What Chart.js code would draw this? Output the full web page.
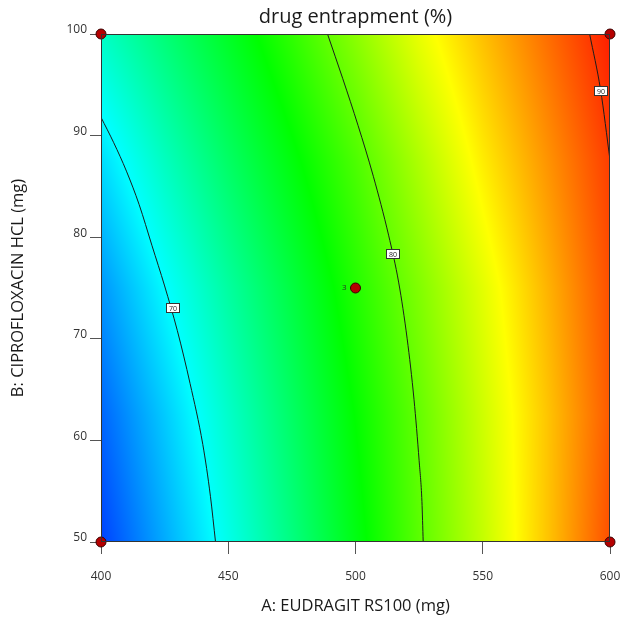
<!DOCTYPE html>
<html>
<head>
<meta charset="utf-8">
<script src="https://cdn.jsdelivr.net/npm/chart.js@4.4.1/dist/chart.umd.min.js"></script>
<style>
  html, body { margin: 0; padding: 0; background: #fff; }
  #myChart { display: block; }
</style>
</head>
<body>
<canvas id="myChart" width="622" height="621"></canvas>
<script>
// factor levels of the response surface grid
const xGrid = [400, 425, 450, 475, 500, 525, 550, 575, 600];
const yGrid = [50, 62.5, 75, 87.5, 100];
// predicted drug entrapment (%), one row per B level
const entrapment = [
  [64.6, 67.6, 70.6, 73.6, 76.7, 79.8, 82.8, 86.1, 89.5],
  [65.6, 68.5, 71.5, 74.4, 77.3, 80.1, 83.1, 86.1, 89.2],
  [67.0, 69.9, 72.7, 75.4, 78.2, 80.9, 83.7, 86.6, 89.5],
  [69.0, 71.8, 74.4, 76.9, 79.4, 82.2, 85.0, 87.5, 90.0],
  [71.6, 73.9, 76.2, 78.6, 81.2, 83.9, 86.3, 88.6, 90.9]
];

// contour lines
const contour70 = [[400, 91.8], [405, 89.3], [410, 86.5], [415, 83.2], [420, 79.2], [425, 75.2], [430, 70.8], [435, 65.6], [440, 59.6], [443, 54.5], [445, 50]];
const contour80 = [[489, 100], [495, 95.6], [501, 91], [507, 86], [513, 80.2], [517, 75.5], [520.3, 70], [523, 64], [525, 58], [526.1, 54], [526.6, 50]];
const contour90 = [[592, 100], [596.3, 94.5], [600, 87.6]];
const contourLabels = [
  { text: '70', x: 428.3, y: 73.0 },
  { text: '80', x: 514.9, y: 78.3 },
  { text: '90', x: 596.3, y: 94.4 }
];

// design points
const designX = [400, 400, 600, 600, 500];
const designY = [50, 100, 50, 100, 75];
const designRuns = [null, null, null, null, '3'];

const FONT = "'Open Sans', 'Noto Sans', sans-serif";

// colour ramp blue -> cyan -> green -> yellow -> red
const rampValues = [62.75, 70, 77.25, 84.5, 91.75];
const rampColors = [[0, 0, 255], [0, 255, 255], [0, 255, 0], [255, 255, 0], [255, 0, 0]];

function rampColor(v) {
  if (v <= rampValues[0]) return rampColors[0];
  for (let i = 1; i < rampValues.length; i++) {
    if (v <= rampValues[i]) {
      const t = (v - rampValues[i - 1]) / (rampValues[i] - rampValues[i - 1]);
      const a = rampColors[i - 1], b = rampColors[i];
      return [a[0] + (b[0] - a[0]) * t, a[1] + (b[1] - a[1]) * t, a[2] + (b[2] - a[2]) * t];
    }
  }
  return rampColors[rampColors.length - 1];
}

function findCell(grid, v) {
  let i = 0;
  while (i < grid.length - 2 && v > grid[i + 1]) i++;
  let t = (v - grid[i]) / (grid[i + 1] - grid[i]);
  return [i, Math.max(0, Math.min(1, t))];
}

function surfaceAt(xv, yv) {
  const [i, tx] = findCell(xGrid, xv);
  const [j, ty] = findCell(yGrid, yv);
  const a = entrapment[j][i], b = entrapment[j][i + 1];
  const c = entrapment[j + 1][i], d = entrapment[j + 1][i + 1];
  return (a * (1 - tx) + b * tx) * (1 - ty) + (c * (1 - tx) + d * tx) * ty;
}

let surfaceImage = null;

const surfacePlugin = {
  id: 'surface',
  beforeDatasetsDraw(chart) {
    const area = chart.chartArea;
    const xs = chart.scales.x, ys = chart.scales.y;
    const w = Math.round(area.right - area.left);
    const h = Math.round(area.bottom - area.top);
    if (!surfaceImage) {
      surfaceImage = document.createElement('canvas');
      surfaceImage.width = w;
      surfaceImage.height = h;
      const octx = surfaceImage.getContext('2d');
      const img = octx.createImageData(w, h);
      for (let py = 0; py < h; py++) {
        const yv = ys.getValueForPixel(area.top + py + 0.5);
        for (let px = 0; px < w; px++) {
          const xv = xs.getValueForPixel(area.left + px + 0.5);
          const c = rampColor(surfaceAt(xv, yv));
          const k = (py * w + px) * 4;
          img.data[k] = c[0];
          img.data[k + 1] = c[1];
          img.data[k + 2] = c[2];
          img.data[k + 3] = 255;
        }
      }
      octx.putImageData(img, 0, 0);
    }
    chart.ctx.drawImage(surfaceImage, area.left, area.top);
  },
  afterDatasetsDraw(chart) {
    const ctx = chart.ctx;
    const area = chart.chartArea;
    const xs = chart.scales.x, ys = chart.scales.y;
    ctx.save();
    // plot frame
    ctx.strokeStyle = '#333';
    ctx.lineWidth = 1;
    ctx.strokeRect(area.left + 0.5, area.top + 0.5, area.right - area.left - 1, area.bottom - area.top - 1);
    // contour value boxes
    ctx.font = '7px ' + FONT;
    ctx.textAlign = 'center';
    ctx.textBaseline = 'middle';
    contourLabels.forEach(l => {
      const px = Math.round(xs.getPixelForValue(l.x));
      const py = Math.round(ys.getPixelForValue(l.y));
      ctx.fillStyle = '#fff';
      ctx.fillRect(px - 7, py - 5, 14, 10);
      ctx.strokeStyle = '#333';
      ctx.strokeRect(px - 6.5, py - 4.5, 13, 9);
      ctx.fillStyle = '#222';
      ctx.fillText(l.text, px, py + 0.5);
    });
    // replicate counts next to design points
    ctx.font = '8px ' + FONT;
    ctx.textAlign = 'right';
    ctx.fillStyle = '#2a2a2a';
    designRuns.forEach((r, i) => {
      if (!r) return;
      ctx.fillText(r, xs.getPixelForValue(designX[i]) - 9, ys.getPixelForValue(designY[i]));
    });
    ctx.restore();
  }
};

function contourDataset(pts) {
  return {
    data: pts.map(p => ({ x: p[0], y: p[1] })),
    showLine: true,
    borderColor: '#1c1c1c',
    borderWidth: 1,
    pointRadius: 0,
    cubicInterpolationMode: 'monotone',
    fill: false
  };
}

const ctx = document.getElementById('myChart');
const myChart = new Chart(ctx, {
  type: 'scatter',
  data: {
    datasets: [
      contourDataset(contour70),
      contourDataset(contour80),
      contourDataset(contour90),
      {
        data: designX.map((x, i) => ({ x: x, y: designY[i] })),
        pointRadius: 5,
        pointBackgroundColor: '#b50000',
        pointBorderColor: '#3a0000',
        pointBorderWidth: 1,
        clip: false
      }
    ]
  },
  options: {
    responsive: false,
    animation: false,
    layout: { padding: { left: 0, right: 12, top: 0, bottom: 0 } },
    plugins: {
      legend: { display: false },
      tooltip: { enabled: false },
      title: {
        display: true,
        text: 'drug entrapment (%)',
        fullSize: false,
        color: '#1a1a1a',
        font: { family: FONT, size: 20, weight: 'normal' },
        padding: { top: 5, bottom: 5 }
      }
    },
    scales: {
      x: {
        type: 'linear',
        min: 400,
        max: 600,
        border: { display: false },
        grid: { drawOnChartArea: false, tickLength: 12, color: '#555' },
        ticks: { stepSize: 50, padding: 15, color: '#333', font: { family: FONT, size: 12 } },
        title: {
          display: true,
          text: 'A: EUDRAGIT RS100 (mg)',
          color: '#1a1a1a',
          font: { family: FONT, size: 16.5 },
          padding: { top: 0, bottom: 5 }
        },
        afterFit: s => { s.height = 79; s.paddingLeft = 0; s.paddingRight = 0; }
      },
      y: {
        type: 'linear',
        min: 50,
        max: 100,
        border: { display: false },
        grid: { drawOnChartArea: false, tickLength: 11, color: '#555' },
        ticks: { stepSize: 10, padding: 3, labelOffset: -4, color: '#333', font: { family: FONT, size: 12 } },
        title: {
          display: true,
          text: 'B: CIPROFLOXACIN HCL (mg)',
          color: '#1a1a1a',
          font: { family: FONT, size: 16.5 },
          padding: { top: 8, bottom: 0 }
        },
        afterFit: s => { s.width = 101; s.paddingTop = 0; s.paddingBottom = 0; }
      }
    }
  },
  plugins: [surfacePlugin]
});
</script>
</body>
</html>
